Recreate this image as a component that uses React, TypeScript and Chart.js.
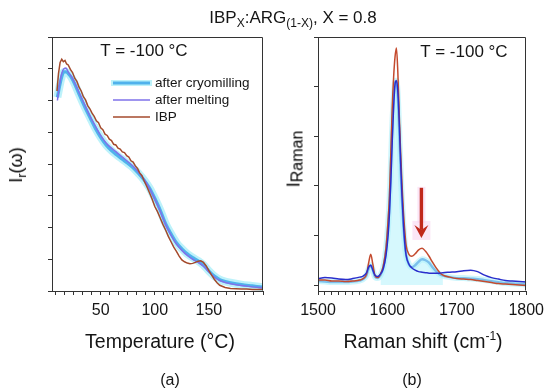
import React, { useEffect, useRef } from "react";
import { Chart, registerables } from "chart.js";

Chart.register(...registerables);

const FONT = "'Liberation Sans', Arial, Helvetica, sans-serif";

// ---------------- Panel (a): I_r(omega) vs temperature ----------------
const temperatureC = [10, 12, 14, 16, 18, 20, 23, 26, 30, 35, 40, 45, 50, 55, 60, 65, 70, 75, 80, 85, 90, 95, 100, 105, 110, 115, 120, 125, 130, 135, 140, 145, 150, 155, 160, 165, 170, 180, 190, 200];
const cryomilledA = [6.1, 6.45, 6.75, 6.9, 6.9, 6.85, 6.72, 6.52, 6.2, 5.82, 5.47, 5.13, 4.84, 4.6, 4.42, 4.28, 4.15, 4.02, 3.88, 3.7, 3.5, 3.25, 2.92, 2.55, 2.12, 1.8, 1.52, 1.33, 1.17, 1.05, 0.95, 0.82, 0.63, 0.47, 0.36, 0.3, 0.26, 0.2, 0.16, 0.12];
const meltedA = [6.0, 6.5, 6.85, 7.0, 7.02, 6.9, 6.75, 6.55, 6.25, 5.88, 5.52, 5.2, 4.9, 4.66, 4.5, 4.36, 4.22, 4.08, 3.93, 3.74, 3.52, 3.24, 2.9, 2.52, 2.1, 1.76, 1.48, 1.28, 1.12, 1.0, 0.9, 0.78, 0.6, 0.44, 0.33, 0.27, 0.23, 0.17, 0.13, 0.1];
const ibpTemperatureC = [9.6, 11, 12.5, 14, 15.5, 17, 18.5, 20, 22, 24, 26, 28, 30, 32, 34, 36, 38, 40, 42, 44, 46, 48, 50, 52, 54, 56, 58, 60, 62, 64, 66, 68, 70, 72, 74, 76, 78, 80, 82, 84, 86, 88, 90, 92.5, 95, 97.5, 100, 102.5, 105, 107.5, 110, 112.5, 115, 117.5, 120, 122.5, 125, 127.5, 130, 132.5, 135, 137.5, 140, 142.5, 145, 147.5, 150, 152.5, 155, 157.5, 160, 165, 170, 175, 180, 185, 190, 195, 200];
const ibpA = [6.3, 6.85, 7.2, 7.3, 7.22, 7.26, 7.15, 7.12, 6.98, 6.88, 6.7, 6.6, 6.42, 6.3, 6.12, 6.02, 5.84, 5.74, 5.6, 5.5, 5.36, 5.3, 5.14, 5.08, 4.94, 4.9, 4.78, 4.74, 4.62, 4.6, 4.5, 4.47, 4.38, 4.36, 4.26, 4.22, 4.1, 4.06, 3.94, 3.86, 3.72, 3.64, 3.48, 3.3, 3.1, 2.9, 2.66, 2.5, 2.3, 2.1, 1.92, 1.72, 1.55, 1.38, 1.25, 1.1, 0.98, 0.92, 0.88, 0.86, 0.87, 0.9, 0.94, 0.95, 0.9, 0.79, 0.64, 0.5, 0.37, 0.26, 0.18, 0.11, 0.08, 0.07, 0.06, 0.06, 0.05, 0.05, 0.05];
const tempRange = [5, 200];
const tempMinorStep = 50 / 6;
const tempTickLabels = [50, 100, 150];
const intensityATicks = [0, 1, 2, 3, 4, 5, 6, 7, 8];

// ---------------- Panel (b): Raman spectra ----------------
const ramanShift = [1500, 1510, 1520, 1530, 1540, 1550, 1560, 1565, 1570, 1573, 1576, 1579, 1582, 1586, 1590, 1594, 1598, 1601, 1603, 1605, 1607, 1609, 1611, 1613, 1615, 1617, 1619, 1621, 1623, 1625, 1627, 1631, 1635, 1640, 1645, 1650, 1655, 1660, 1665, 1670, 1675, 1680, 1690, 1700, 1710, 1720, 1730, 1740, 1750, 1760, 1770, 1780, 1790, 1800];
const ibpB = [0.1, 0.1, 0.08, 0.08, 0.07, 0.08, 0.1, 0.13, 0.22, 0.45, 0.62, 0.42, 0.2, 0.15, 0.22, 0.38, 0.75, 1.3, 1.8, 2.7, 3.6, 4.2, 4.6, 4.78, 4.3, 3.47, 2.7, 2.05, 1.5, 1.1, 0.8, 0.62, 0.58, 0.63, 0.71, 0.74, 0.68, 0.58, 0.46, 0.35, 0.26, 0.2, 0.16, 0.13, 0.12, 0.11, 0.09, 0.07, 0.05, 0.03, 0.02, 0.01, 0.0, -0.01];
const cryomilledB = [0.08, 0.07, 0.06, 0.06, 0.06, 0.07, 0.09, 0.12, 0.2, 0.33, 0.4, 0.3, 0.17, 0.14, 0.2, 0.35, 0.7, 1.2, 1.65, 2.4, 3.2, 3.75, 4.08, 4.12, 3.8, 3.1, 2.35, 1.7, 1.2, 0.85, 0.6, 0.42, 0.36, 0.4, 0.47, 0.52, 0.5, 0.45, 0.36, 0.28, 0.22, 0.19, 0.16, 0.14, 0.14, 0.13, 0.12, 0.1, 0.08, 0.06, 0.04, 0.03, 0.02, 0.01];
const meltedB = [0.13, 0.15, 0.14, 0.12, 0.11, 0.13, 0.16, 0.18, 0.25, 0.36, 0.4, 0.3, 0.2, 0.17, 0.22, 0.33, 0.6, 1.0, 1.45, 2.1, 2.9, 3.6, 4.05, 4.12, 3.9, 3.3, 2.5, 1.8, 1.25, 0.85, 0.6, 0.42, 0.35, 0.3, 0.27, 0.26, 0.25, 0.24, 0.24, 0.24, 0.24, 0.25, 0.26, 0.27, 0.29, 0.3, 0.27, 0.2, 0.15, 0.12, 0.09, 0.08, 0.07, 0.06];
const shiftRange = [1500, 1800];
const shiftMinorStep = 10;
const shiftTickLabels = [1500, 1600, 1700, 1800];
const intensityBRange = [-0.12, 5.0];
const intensityBTicks = [0, 1, 2, 3, 4, 5];
const fillShiftRange = [1590, 1685];
const arrowShift = 1649;
const arrowFrom = 1.96;
const arrowTo = 0.95;

const legendLabels = ["after cryomilling", "after melting", "IBP"];

// ---------------- styles ----------------
const AXIS = "#333333";
const TEXT = "#151515";
const CRYO = "#50b2ec";
const CRYO_HALO = "rgba(145, 234, 247, 0.6)";
const MELT_A = "#7f72ea";
const IBP_A = "#a44a2c";
const CRYO_B = "#7cc0ec";
const MELT_B = "#2a2ecc";
const IBP_B = "#c44a2e";

const pts = (xs: number[], ys: number[]) => xs.map((x, i) => ({ x, y: ys[i] }));
const near = (v: number, t: number) => Math.abs(v - t) < 1e-6;

function stepTicks(lo: number, hi: number, step: number) {
  const out: { value: number }[] = [];
  const k0 = Math.ceil(lo / step - 1e-9);
  for (let k = k0; k * step <= hi + 1e-9; k++) out.push({ value: +(k * step).toFixed(6) });
  return out;
}

const framePlugin = {
  id: "frame",
  afterDraw(chart: any) {
    const { ctx, chartArea: a } = chart;
    ctx.save();
    ctx.strokeStyle = AXIS;
    ctx.lineWidth = 1;
    const l = Math.round(a.left) + 0.5, r = Math.round(a.right) - 0.5;
    const t = Math.round(a.top) + 0.5, b = Math.round(a.bottom) - 0.5;
    ctx.beginPath();
    ctx.moveTo(l, b);
    ctx.lineTo(l, t);
    ctx.lineTo(r, t);
    ctx.lineTo(r, b);
    ctx.stroke();
    ctx.restore();
  },
};

const legendPlugin = {
  id: "legendA",
  afterDraw(chart: any) {
    const { ctx, chartArea: a } = chart;
    const rows = [
      { color: CRYO, width: 3, halo: true },
      { color: MELT_A, width: 1.6, halo: false },
      { color: IBP_A, width: 1.6, halo: false },
    ];
    const x0 = a.left + 61, x1 = a.left + 98, tx = a.left + 103;
    ctx.save();
    rows.forEach((r, i) => {
      const y = a.top + 46 + i * 17;
      if (r.halo) {
        ctx.strokeStyle = CRYO_HALO;
        ctx.lineWidth = 6;
        ctx.beginPath(); ctx.moveTo(x0 - 2, y); ctx.lineTo(x1 + 2, y); ctx.stroke();
      }
      ctx.strokeStyle = r.color;
      ctx.lineWidth = r.width;
      ctx.beginPath(); ctx.moveTo(x0, y); ctx.lineTo(x1, y); ctx.stroke();
      ctx.fillStyle = TEXT;
      ctx.font = `13.5px ${FONT}`;
      ctx.textBaseline = "middle";
      ctx.textAlign = "left";
      ctx.fillText(legendLabels[i], tx, y + 0.5);
    });
    ctx.restore();
  },
};

const arrowPlugin = {
  id: "arrowB",
  afterDatasetsDraw(chart: any) {
    const { ctx, scales } = chart;
    const px = scales.x.getPixelForValue(arrowShift);
    const pTop = scales.y.getPixelForValue(arrowFrom);
    const pTip = scales.y.getPixelForValue(arrowTo);
    ctx.save();
    ctx.fillStyle = "rgba(248, 210, 238, 0.55)";
    ctx.fillRect(px - 4, pTop - 1, 8, pTip - pTop - 14);
    ctx.fillRect(px - 9, pTip - 17, 18, 19);
    ctx.strokeStyle = "#c0281a";
    ctx.lineWidth = 3.4;
    ctx.beginPath(); ctx.moveTo(px, pTop); ctx.lineTo(px, pTip - 8); ctx.stroke();
    ctx.fillStyle = "#c0281a";
    ctx.beginPath();
    ctx.moveTo(px - 7, pTip - 13);
    ctx.lineTo(px, pTip - 8);
    ctx.lineTo(px + 7, pTip - 13);
    ctx.lineTo(px, pTip);
    ctx.closePath();
    ctx.fill();
    ctx.restore();
  },
};

function xAxis(range: number[], step: number, labels: number[]) {
  return {
    type: "linear",
    position: "bottom",
    min: range[0],
    max: range[1],
    grid: { drawOnChartArea: false, drawTicks: true, tickLength: 4, color: AXIS, tickColor: AXIS, lineWidth: 1 },
    border: { display: true, color: AXIS, width: 1 },
    ticks: {
      autoSkip: false,
      maxRotation: 0,
      minRotation: 0,
      padding: 6,
      color: TEXT,
      font: { size: 16, family: FONT },
      callback: (v: number) => (labels.some((l) => near(v, l)) ? String(Math.round(v)) : ""),
    },
    afterBuildTicks: (axis: any) => { axis.ticks = stepTicks(range[0], range[1], step); },
    afterFit: (axis: any) => { axis.height = 30; },
  };
}

function yAxis(range: number[], ticks: number[]) {
  return {
    type: "linear",
    position: "left",
    min: range[0],
    max: range[1],
    grid: { drawOnChartArea: false, drawTicks: true, tickLength: 4, color: AXIS, tickColor: AXIS, lineWidth: 1 },
    border: { display: true, color: AXIS, width: 1 },
    ticks: { display: false },
    afterBuildTicks: (axis: any) => { axis.ticks = ticks.map((value) => ({ value })); },
    afterFit: (axis: any) => { axis.width = 10; },
  };
}

function configA(): any {
  return {
    type: "line",
    data: {
      datasets: [
        { label: "halo", data: pts(temperatureC, cryomilledA), borderColor: CRYO_HALO, borderWidth: 8, pointRadius: 0, cubicInterpolationMode: "monotone", order: 4 },
        { label: legendLabels[0], data: pts(temperatureC, cryomilledA), borderColor: CRYO, borderWidth: 3.2, pointRadius: 0, cubicInterpolationMode: "monotone", order: 3 },
        { label: legendLabels[1], data: pts(temperatureC, meltedA), borderColor: MELT_A, borderWidth: 1.5, pointRadius: 0, cubicInterpolationMode: "monotone", order: 2 },
        { label: legendLabels[2], data: pts(ibpTemperatureC, ibpA), borderColor: IBP_A, borderWidth: 1.5, pointRadius: 0, tension: 0, order: 1 },
      ],
    },
    options: {
      responsive: false,
      animation: false,
      events: [],
      layout: { padding: { left: 42, right: 17, top: 37, bottom: 71 } },
      plugins: { legend: { display: false }, tooltip: { enabled: false }, title: { display: false } },
      scales: {
        x: xAxis(tempRange, tempMinorStep, tempTickLabels),
        y: yAxis([0, 8], intensityATicks),
      },
    },
    plugins: [framePlugin, legendPlugin],
  };
}

function configB(): any {
  const fillX: number[] = [];
  const fillY: number[] = [];
  ramanShift.forEach((x, i) => {
    if (x >= fillShiftRange[0] && x <= fillShiftRange[1]) { fillX.push(x); fillY.push(cryomilledB[i]); }
  });
  return {
    type: "line",
    data: {
      datasets: [
        { label: "fill", data: pts(fillX, fillY), borderColor: "rgba(0,0,0,0)", borderWidth: 0, backgroundColor: "rgba(200, 246, 252, 0.75)", fill: "origin", pointRadius: 0, cubicInterpolationMode: "monotone", order: 5 },
        { label: "halo", data: pts(ramanShift, cryomilledB), borderColor: "rgba(175, 240, 250, 0.6)", borderWidth: 6, pointRadius: 0, cubicInterpolationMode: "monotone", order: 4 },
        { label: legendLabels[0], data: pts(ramanShift, cryomilledB), borderColor: CRYO_B, borderWidth: 2.4, pointRadius: 0, cubicInterpolationMode: "monotone", order: 3 },
        { label: legendLabels[2], data: pts(ramanShift, ibpB), borderColor: IBP_B, borderWidth: 1.5, pointRadius: 0, cubicInterpolationMode: "monotone", order: 2 },
        { label: legendLabels[1], data: pts(ramanShift, meltedB), borderColor: MELT_B, borderWidth: 1.5, pointRadius: 0, cubicInterpolationMode: "monotone", order: 1 },
      ],
    },
    options: {
      responsive: false,
      animation: false,
      events: [],
      layout: { padding: { left: 28, right: 22, top: 37, bottom: 71 } },
      plugins: { legend: { display: false }, tooltip: { enabled: false }, title: { display: false } },
      scales: {
        x: xAxis(shiftRange, shiftMinorStep, shiftTickLabels),
        y: yAxis(intensityBRange, intensityBTicks),
      },
    },
    plugins: [framePlugin, arrowPlugin],
  };
}

function Label(props: { x: number; baseline: number; size: number; children: any }) {
  const { x, baseline, size, children } = props;
  return (
    <div style={{ position: "absolute", left: x, top: baseline - 0.8465 * size, fontSize: size, lineHeight: `${size}px`, whiteSpace: "nowrap", transform: "translateX(-50%)" }}>
      {children}
    </div>
  );
}

function VLabel(props: { x: number; y: number; size: number; children: any }) {
  const { x, y, size, children } = props;
  return (
    <div style={{ position: "absolute", left: x, top: y, fontSize: size, lineHeight: `${size}px`, whiteSpace: "nowrap", color: "#000", transform: "translate(-50%, -50%) rotate(-90deg)" }}>
      {children}
    </div>
  );
}

const sub = (size: number, dy: number) => ({ fontSize: size, position: "relative" as const, top: dy });

export default function App() {
  const refA = useRef<HTMLCanvasElement>(null);
  const refB = useRef<HTMLCanvasElement>(null);

  useEffect(() => {
    Chart.defaults.font.family = FONT;
    const a = new Chart(refA.current as HTMLCanvasElement, configA());
    const b = new Chart(refB.current as HTMLCanvasElement, configB());
    return () => { a.destroy(); b.destroy(); };
  }, []);

  return (
    <div style={{ position: "fixed", left: 0, top: 0, width: 550, height: 392, background: "#fff", fontFamily: FONT, color: TEXT, overflow: "hidden" }}>
      <canvas ref={refA} width={280} height={392} style={{ position: "absolute", left: 0, top: 0 }} />
      <canvas ref={refB} width={270} height={392} style={{ position: "absolute", left: 280, top: 0 }} />

      <Label x={293} baseline={23} size={17}>
        IBP<span style={sub(12, 4)}>X</span>:ARG<span style={sub(12, 4)}>(1-X)</span>, X = 0.8
      </Label>

      <Label x={144} baseline={56.7} size={17}>T = -100 °C</Label>
      <Label x={464} baseline={57} size={17}>T = -100 °C</Label>

      <VLabel x={16.8} y={165} size={18}>
        I<span style={sub(13, 4)}>r</span>(ω)
      </VLabel>
      <VLabel x={293.8} y={158.5} size={18}>
        I<span style={sub(16, 3)}>Raman</span>
      </VLabel>

      <Label x={160} baseline={349} size={19.5}>Temperature (°C)</Label>
      <Label x={423} baseline={349} size={19.5}>
        Raman shift (cm<span style={sub(12, -8)}>-1</span>)
      </Label>

      <Label x={170} baseline={386} size={16}>(a)</Label>
      <Label x={412} baseline={386} size={16}>(b)</Label>
    </div>
  );
}
